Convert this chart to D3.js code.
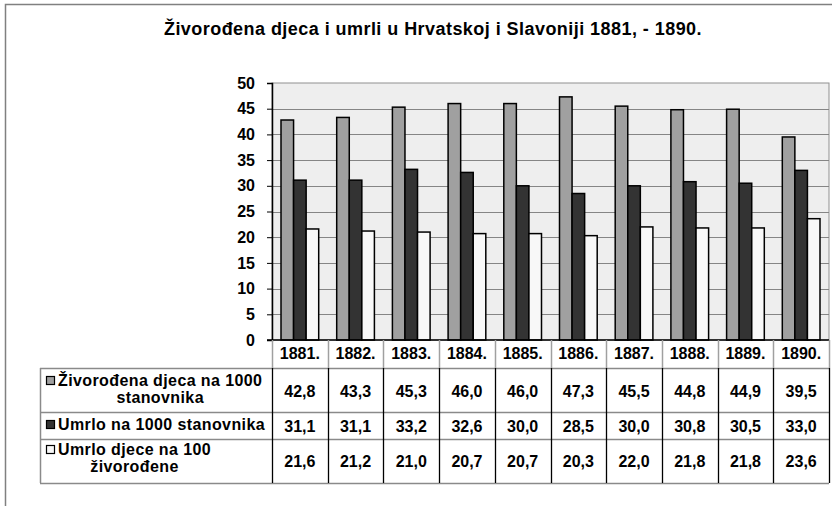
<!DOCTYPE html>
<html>
<head>
<meta charset="utf-8">
<script src="https://cdn.jsdelivr.net/npm/d3@7"></script>
<style>
body { margin: 0; background: #fff; }
text { font-family: "Liberation Sans", Arial, sans-serif; font-weight: bold; fill: #000; }
</style>
</head>
<body>
<script>
// data
var years = ["1881.", "1882.", "1883.", "1884.", "1885.", "1886.", "1887.", "1888.", "1889.", "1890."];
var zivorodena = [42.8, 43.3, 45.3, 46.0, 46.0, 47.3, 45.5, 44.8, 44.9, 39.5];
var umrlo = [31.1, 31.1, 33.2, 32.6, 30.0, 28.5, 30.0, 30.8, 30.5, 33.0];
var umrloDjece = [21.6, 21.2, 21.0, 20.7, 20.7, 20.3, 22.0, 21.8, 21.8, 23.6];
var seriesNames = [["Živorođena djeca na 1000", "stanovnika"], ["Umrlo na 1000 stanovnika"], ["Umrlo djece na 100", "živorođene"]];
var yTicks = [0, 5, 10, 15, 20, 25, 30, 35, 40, 45, 50];

var seriesValues = [zivorodena, umrlo, umrloDjece];
var seriesColors = ["#a0a0a0", "#333333", "#f8f8f8"];

var svgWidth = 832, svgHeight = 506;
var plotLeft = 272, plotRight = 829, plotTop = 83, plotBottom = 340;

var svg = d3.select("body").append("svg")
    .attr("width", svgWidth)
    .attr("height", svgHeight);

// outer chart border (only top and left visible)
svg.append("path")
    .attr("d", "M5.5,506 V4.5 H832")
    .attr("fill", "none")
    .attr("stroke", "#808080")
    .attr("stroke-width", 1.5);

svg.append("text")
    .attr("x", 433).attr("y", 35)
    .attr("text-anchor", "middle")
    .style("font-size", "18px")
    .style("letter-spacing", "0.45px")
    .text("Živorođena djeca i umrli u Hrvatskoj i Slavoniji 1881, - 1890.");

var x0 = d3.scaleBand().domain(years).range([plotLeft, plotRight]);
var x1 = d3.scaleBand().domain([0, 1, 2]).range([9, x0.bandwidth() - 9]);
var y = d3.scaleLinear().domain([0, 50]).range([plotBottom, plotTop]);

// plot background
svg.append("rect")
    .attr("x", plotLeft).attr("y", plotTop)
    .attr("width", plotRight - plotLeft).attr("height", plotBottom - plotTop)
    .attr("fill", "#eeeeee")
    .attr("stroke", "#909090");

// gridlines
svg.append("g").selectAll("line")
    .data(yTicks.filter(function(d){ return d > 0 && d < 50; }))
    .enter().append("line")
    .attr("x1", plotLeft).attr("x2", plotRight)
    .attr("y1", function(d){ return Math.round(y(d)) + 0.5; })
    .attr("y2", function(d){ return Math.round(y(d)) + 0.5; })
    .attr("stroke", "#858585")
    .attr("stroke-width", 1.2);

// bars
var groups = svg.append("g").selectAll("g")
    .data(years)
    .enter().append("g")
    .attr("transform", function(d){ return "translate(" + x0(d) + ",0)"; });

groups.selectAll("rect")
    .data(function(d, i){ return seriesValues.map(function(s, k){ return {k: k, v: s[i]}; }); })
    .enter().append("rect")
    .attr("x", function(d){ return x1(d.k); })
    .attr("y", function(d){ return y(d.v); })
    .attr("width", x1.bandwidth())
    .attr("height", function(d){ return plotBottom - y(d.v); })
    .attr("fill", function(d){ return seriesColors[d.k]; })
    .attr("stroke", "#000")
    .attr("stroke-width", 1.5);

// y axis
var yAxis = svg.append("g")
    .attr("transform", "translate(" + plotLeft + ",0)")
    .call(d3.axisLeft(y).tickValues(yTicks).tickSize(5).tickPadding(12));
yAxis.select(".domain").attr("stroke", "#000").attr("stroke-width", 1.5);
yAxis.selectAll(".tick line").attr("stroke", "#000");
yAxis.selectAll("text")
    .style("font-size", "16px")
    .style("font-family", "'Liberation Sans', Arial, sans-serif")
    .style("font-weight", "bold")
    .attr("fill", "#000");

svg.append("line")
    .attr("x1", plotLeft - 5).attr("x2", plotRight)
    .attr("y1", plotBottom).attr("y2", plotBottom)
    .attr("stroke", "#000").attr("stroke-width", 1.5);

// data table
var tableLeft = 40;
var rowTops = [340, 368, 412, 439, 483];
var valueBaselines = [397, 432, 467];
var legendBaselines = [[386, 403], [430], [455, 472]];
var fmt = function(v){ return d3.format(".1f")(v).replace(".", ","); };

var table = svg.append("g");

// horizontal lines
table.selectAll("line.h")
    .data(rowTops.slice(1))
    .enter().append("line")
    .attr("class", "h")
    .attr("x1", tableLeft).attr("x2", plotRight)
    .attr("y1", function(d){ return d + 0.5; }).attr("y2", function(d){ return d + 0.5; })
    .attr("stroke", "#8a8a8a").attr("stroke-width", 1.5);

var colEdges = years.map(function(d){ return x0(d); }).concat([plotRight]);

// vertical lines in header row
table.selectAll("line.vh")
    .data(colEdges)
    .enter().append("line")
    .attr("x1", function(d){ return Math.round(d) + 0.5; })
    .attr("x2", function(d){ return Math.round(d) + 0.5; })
    .attr("y1", rowTops[0]).attr("y2", rowTops[1])
    .attr("stroke", "#a0a0a0").attr("stroke-width", 1.5);

// vertical lines in data rows
table.selectAll("line.vd")
    .data(colEdges)
    .enter().append("line")
    .attr("x1", function(d){ return Math.round(d) + 0.5; })
    .attr("x2", function(d){ return Math.round(d) + 0.5; })
    .attr("y1", rowTops[1]).attr("y2", rowTops[4])
    .attr("stroke", "#000").attr("stroke-width", 1.3);

table.append("line")
    .attr("x1", tableLeft + 0.5).attr("x2", tableLeft + 0.5)
    .attr("y1", rowTops[1]).attr("y2", rowTops[4])
    .attr("stroke", "#8a8a8a").attr("stroke-width", 1.5);

// year headers
table.selectAll("text.year")
    .data(years)
    .enter().append("text")
    .attr("x", function(d){ return x0(d) + x0.bandwidth() / 2; })
    .attr("y", 359)
    .attr("text-anchor", "middle")
    .style("font-size", "16px")
    .text(function(d){ return d; });

// values
seriesValues.forEach(function(s, k){
    table.selectAll("text.v" + k)
        .data(s)
        .enter().append("text")
        .attr("x", function(d, i){ return x0(years[i]) + x0.bandwidth() / 2; })
        .attr("y", valueBaselines[k])
        .attr("text-anchor", "middle")
        .style("font-size", "16px")
        .text(fmt);
});

// legend cells
seriesNames.forEach(function(lines, k){
    var bl = legendBaselines[k];
    table.append("rect")
        .attr("x", 46.5).attr("y", bl[0] - 9.5)
        .attr("width", 8).attr("height", 8)
        .attr("fill", seriesColors[k])
        .attr("stroke", "#000").attr("stroke-width", 1.2);
    var first = table.append("text")
        .attr("x", 58).attr("y", bl[0])
        .style("font-size", "16px")
        .style("letter-spacing", "0.4px")
        .text(lines[0]);
    if (lines.length > 1) {
        var w = first.node().getComputedTextLength();
        table.append("text")
            .attr("x", 58 + w / 2).attr("y", bl[1])
            .attr("text-anchor", "middle")
            .style("font-size", "16px")
            .style("letter-spacing", "0.4px")
            .text(lines[1]);
    }
});
</script>
</body>
</html>
